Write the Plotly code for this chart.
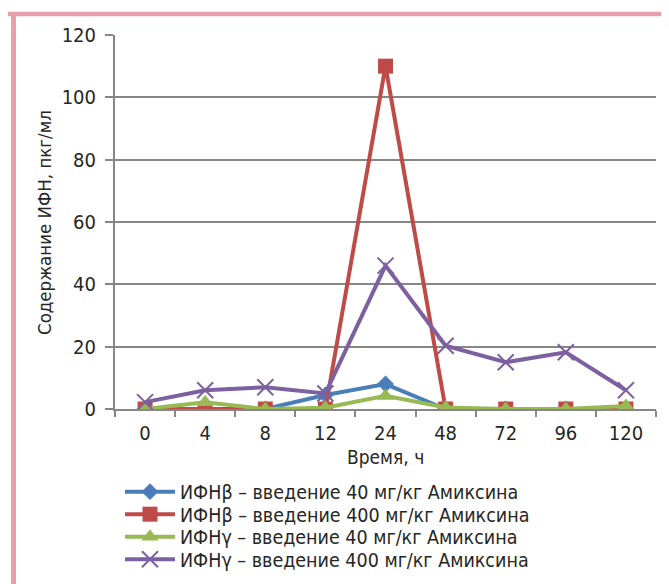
import plotly.graph_objects as go

categories = ["0", "4", "8", "12", "24", "48", "72", "96", "120"]
ifn_beta_40 = [0, 0, 0, 4.5, 8, 0, 0, 0, 0]
ifn_beta_400 = [0, 0, 0, 0, 110, 0, 0, 0, 0]
ifn_gamma_40 = [0, 2.2, 0, 0.4, 4.2, 0.5, 0, 0, 1]
ifn_gamma_400 = [2.2, 6, 7, 5, 46, 20.3, 15, 18.2, 6]

series_names = [
    "ИФНβ – введение 40 мг/кг Амиксина",
    "ИФНβ – введение 400 мг/кг Амиксина",
    "ИФНγ – введение 40 мг/кг Амиксина",
    "ИФНγ – введение 400 мг/кг Амиксина",
]
y_title = "Содержание ИФН, пкг/мл"
x_title = "Время, ч"

FONT = "Liberation Sans Narrow, Arial Narrow, DejaVu Sans Condensed, sans-serif"
TXT = "#262626"

fig = go.Figure()
fig.add_trace(go.Scatter(
    x=categories, y=ifn_beta_40, name=series_names[0], mode="lines+markers",
    legend="legend",
    line=dict(color="#4A7EBB", width=4),
    marker=dict(symbol="diamond", size=13, color="#4A7EBB")))
fig.add_trace(go.Scatter(
    x=categories, y=ifn_beta_400, name=series_names[1], mode="lines+markers",
    legend="legend2",
    line=dict(color="#BE4B48", width=4),
    marker=dict(symbol="square", size=15, color="#BE4B48")))
fig.add_trace(go.Scatter(
    x=categories, y=ifn_gamma_40, name=series_names[2], mode="lines+markers",
    legend="legend3",
    line=dict(color="#98B954", width=4),
    marker=dict(symbol="triangle-up", size=15, color="#98B954")))
fig.add_trace(go.Scatter(
    x=categories, y=ifn_gamma_400, name=series_names[3], mode="lines+markers",
    legend="legend4",
    line=dict(color="#7D60A0", width=4),
    marker=dict(symbol="x-thin", size=16, color="#7D60A0",
                line=dict(color="#7D60A0", width=2))))

# page body adds an 8px offset; positions below are given in screen pixels
OFF = 8
W, H = 669, 584
SL, ST, SR, SB = 115, 35, 656, 409  # plot area in screen pixels
L = SL - OFF
T = ST - OFF
pw = SR - SL
ph = SB - ST
R = W - L - pw
B = H - T - ph

def px_x(px):
    return (px - SL) / pw

def px_y(py):
    return (SB - py) / ph

pink = "#E8A0AC"
shapes = [
    dict(type="line", xref="paper", yref="paper", x0=px_x(8), x1=px_x(680),
         y0=px_y(14), y1=px_y(14), line=dict(color=pink, width=4.5)),
    dict(type="line", xref="paper", yref="paper", x0=px_x(13.5), x1=px_x(13.5),
         y0=px_y(12), y1=px_y(600), line=dict(color=pink, width=5)),
]

def leg(py):
    return dict(
        x=px_x(120), y=px_y(py), xanchor="left", yanchor="middle",
        font=dict(family=FONT, size=19.5, color=TXT),
        bgcolor="rgba(0,0,0,0)", itemwidth=50, borderwidth=0,
    )

fig.update_layout(
    width=W, height=H,
    margin=dict(l=L, r=R, t=T, b=B, pad=0, autoexpand=False),
    paper_bgcolor="white", plot_bgcolor="white",
    font=dict(family=FONT, color=TXT, size=20),
    shapes=shapes,
    showlegend=True,
    legend=leg(492),
    legend2=leg(514.5),
    legend3=leg(537),
    legend4=leg(559.5),
    annotations=[
        dict(text=x_title, xref="paper", yref="paper", x=0.5, y=px_y(457),
             xanchor="center", yanchor="middle", showarrow=False,
             font=dict(family=FONT, size=19, color=TXT)),
        dict(text=y_title, xref="paper", yref="paper", x=px_x(44), y=px_y(223),
             xanchor="center", yanchor="middle", showarrow=False, textangle=-90,
             font=dict(family=FONT, size=18.5, color=TXT)),
    ],
    xaxis=dict(
        type="category", categoryorder="array", categoryarray=categories,
        showgrid=False, zeroline=False, automargin=False,
        showline=True, linecolor="#868686", linewidth=2,
        ticks="outside", tickson="boundaries", ticklen=6, tickwidth=2, tickcolor="#868686",
        ticklabelstandoff=5,
        tickfont=dict(family=FONT, size=20, color=TXT),
        range=[-0.5, 8.5],
    ),
    yaxis=dict(
        range=[0, 120], tickvals=[0, 20, 40, 60, 80, 100, 120],
        showgrid=True, gridcolor="#868686", gridwidth=2,
        zeroline=False, automargin=False,
        showline=True, linecolor="#868686", linewidth=2,
        ticks="outside", ticklen=8, tickwidth=2, tickcolor="#868686",
        ticklabelstandoff=5,
        tickfont=dict(family=FONT, size=20, color=TXT),
    ),
)

fig.write_html("out.html")
